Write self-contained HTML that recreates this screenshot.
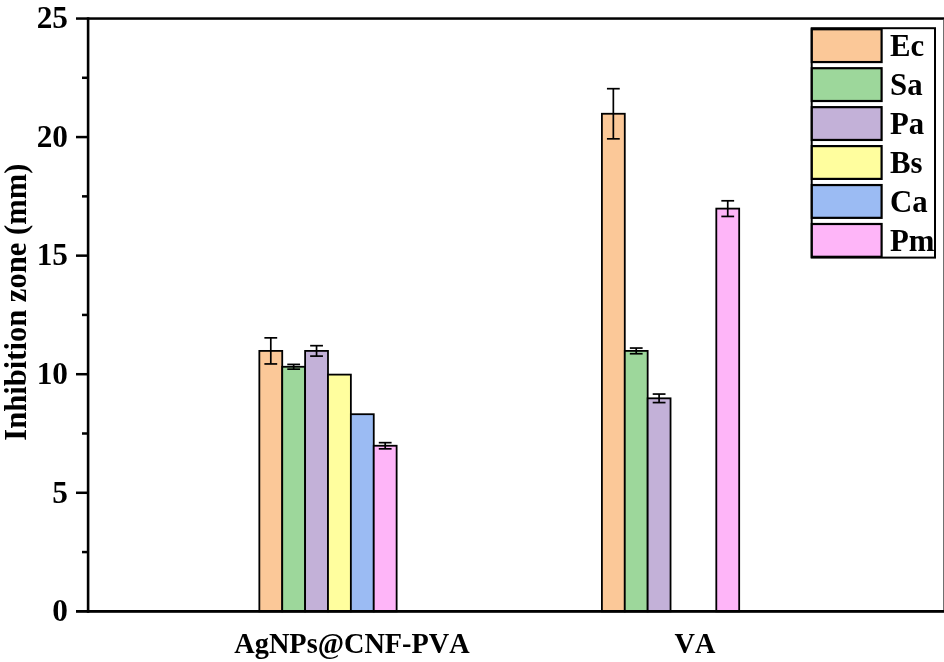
<!DOCTYPE html>
<html><head><meta charset="utf-8"><style>
html,body{margin:0;padding:0;background:#fff;}
svg{display:block;will-change:transform;}
.t{font-kerning:none;font-family:"Liberation Serif",serif;font-weight:bold;font-size:31.3px;fill:#000;}
.ytl{font-size:30.6px;}
.xl{font-size:28.3px;}
.lg{font-size:30.8px;}
</style></head><body>
<svg width="944" height="662" viewBox="0 0 944 662">
<rect x="0" y="0" width="944" height="662" fill="#fff"/>
<rect x="259.35" y="350.90" width="22.88" height="260.45" fill="#FBC898" stroke="#000" stroke-width="1.8"/>
<rect x="282.23" y="366.78" width="22.88" height="244.57" fill="#9DD79B" stroke="#000" stroke-width="1.8"/>
<rect x="305.11" y="350.90" width="22.88" height="260.45" fill="#C3B1D8" stroke="#000" stroke-width="1.8"/>
<rect x="327.99" y="374.61" width="22.88" height="236.74" fill="#FFFE9E" stroke="#000" stroke-width="1.8"/>
<rect x="350.87" y="414.21" width="22.88" height="197.14" fill="#9BBBF3" stroke="#000" stroke-width="1.8"/>
<rect x="373.75" y="445.75" width="22.88" height="165.60" fill="#FEB5F8" stroke="#000" stroke-width="1.8"/>
<line x1="270.79" y1="337.85" x2="270.79" y2="363.94" stroke="#000" stroke-width="1.7"/>
<line x1="264.39" y1="337.85" x2="277.19" y2="337.85" stroke="#000" stroke-width="1.7"/>
<line x1="264.39" y1="363.94" x2="277.19" y2="363.94" stroke="#000" stroke-width="1.7"/>
<line x1="293.67" y1="364.41" x2="293.67" y2="369.16" stroke="#000" stroke-width="1.7"/>
<line x1="287.27" y1="364.41" x2="300.07" y2="364.41" stroke="#000" stroke-width="1.7"/>
<line x1="287.27" y1="369.16" x2="300.07" y2="369.16" stroke="#000" stroke-width="1.7"/>
<line x1="316.55" y1="345.68" x2="316.55" y2="356.11" stroke="#000" stroke-width="1.7"/>
<line x1="310.15" y1="345.68" x2="322.95" y2="345.68" stroke="#000" stroke-width="1.7"/>
<line x1="310.15" y1="356.11" x2="322.95" y2="356.11" stroke="#000" stroke-width="1.7"/>
<line x1="385.19" y1="442.67" x2="385.19" y2="448.83" stroke="#000" stroke-width="1.7"/>
<line x1="378.79" y1="442.67" x2="391.59" y2="442.67" stroke="#000" stroke-width="1.7"/>
<line x1="378.79" y1="448.83" x2="391.59" y2="448.83" stroke="#000" stroke-width="1.7"/>
<rect x="601.90" y="113.76" width="22.88" height="497.59" fill="#FBC898" stroke="#000" stroke-width="1.8"/>
<rect x="624.78" y="350.90" width="22.88" height="260.45" fill="#9DD79B" stroke="#000" stroke-width="1.8"/>
<rect x="647.66" y="398.32" width="22.88" height="213.03" fill="#C3B1D8" stroke="#000" stroke-width="1.8"/>
<rect x="716.30" y="208.61" width="22.88" height="402.74" fill="#FEB5F8" stroke="#000" stroke-width="1.8"/>
<line x1="613.34" y1="88.69" x2="613.34" y2="138.82" stroke="#000" stroke-width="1.7"/>
<line x1="606.94" y1="88.69" x2="619.74" y2="88.69" stroke="#000" stroke-width="1.7"/>
<line x1="606.94" y1="138.82" x2="619.74" y2="138.82" stroke="#000" stroke-width="1.7"/>
<line x1="636.22" y1="348.05" x2="636.22" y2="353.74" stroke="#000" stroke-width="1.7"/>
<line x1="629.82" y1="348.05" x2="642.62" y2="348.05" stroke="#000" stroke-width="1.7"/>
<line x1="629.82" y1="353.74" x2="642.62" y2="353.74" stroke="#000" stroke-width="1.7"/>
<line x1="659.10" y1="394.06" x2="659.10" y2="402.59" stroke="#000" stroke-width="1.7"/>
<line x1="652.70" y1="394.06" x2="665.50" y2="394.06" stroke="#000" stroke-width="1.7"/>
<line x1="652.70" y1="402.59" x2="665.50" y2="402.59" stroke="#000" stroke-width="1.7"/>
<line x1="727.74" y1="200.79" x2="727.74" y2="216.44" stroke="#000" stroke-width="1.7"/>
<line x1="721.34" y1="200.79" x2="734.14" y2="200.79" stroke="#000" stroke-width="1.7"/>
<line x1="721.34" y1="216.44" x2="734.14" y2="216.44" stroke="#000" stroke-width="1.7"/>
<rect x="76" y="17.3" width="868" height="2.5" fill="#000"/>
<rect x="76" y="610.0" width="868" height="2.8" fill="#000"/>
<rect x="86.8" y="17.3" width="2.6" height="595.5" fill="#000"/>
<rect x="943" y="19.8" width="1" height="590.2" fill="#707070"/>
<rect x="76" y="491.53" width="12" height="2.5" fill="#000"/>
<rect x="76" y="372.96" width="12" height="2.5" fill="#000"/>
<rect x="76" y="254.39" width="12" height="2.5" fill="#000"/>
<rect x="76" y="135.82" width="12" height="2.5" fill="#000"/>
<rect x="82" y="550.82" width="6" height="2.5" fill="#000"/>
<rect x="82" y="432.25" width="6" height="2.5" fill="#000"/>
<rect x="82" y="313.68" width="6" height="2.5" fill="#000"/>
<rect x="82" y="195.11" width="6" height="2.5" fill="#000"/>
<rect x="82" y="76.54" width="6" height="2.5" fill="#000"/>
<text transform="translate(68.0,621.15) scale(1,1.035)" text-anchor="end" class="t">0</text>
<text transform="translate(68.0,502.58) scale(1,1.035)" text-anchor="end" class="t">5</text>
<text transform="translate(68.0,384.01) scale(1,1.035)" text-anchor="end" class="t">10</text>
<text transform="translate(68.0,265.44) scale(1,1.035)" text-anchor="end" class="t">15</text>
<text transform="translate(68.0,146.87) scale(1,1.035)" text-anchor="end" class="t">20</text>
<text transform="translate(68.0,28.30) scale(1,1.035)" text-anchor="end" class="t">25</text>
<text transform="translate(26.3,302.2) rotate(-90)" text-anchor="middle" class="t ytl">Inhibition zone (mm)</text>
<text transform="translate(352,652.8) scale(1,1.035)" text-anchor="middle" class="t xl">AgNPs@CNF-PVA</text>
<text transform="translate(694.9,652.8) scale(1,1.035)" text-anchor="middle" class="t xl">VA</text>
<rect x="811.7" y="28.2" width="123.3" height="229.4" fill="#fff" stroke="#000" stroke-width="2"/>
<rect x="811.8" y="29.25" width="69.8" height="32.8" fill="#FBC898" stroke="#000" stroke-width="2.2"/>
<text x="890" y="55.95" class="t lg">Ec</text>
<rect x="811.8" y="68.20" width="69.8" height="32.8" fill="#9DD79B" stroke="#000" stroke-width="2.2"/>
<text x="890" y="94.90" class="t lg">Sa</text>
<rect x="811.8" y="107.15" width="69.8" height="32.8" fill="#C3B1D8" stroke="#000" stroke-width="2.2"/>
<text x="890" y="133.85" class="t lg">Pa</text>
<rect x="811.8" y="146.10" width="69.8" height="32.8" fill="#FFFE9E" stroke="#000" stroke-width="2.2"/>
<text x="890" y="172.80" class="t lg">Bs</text>
<rect x="811.8" y="185.05" width="69.8" height="32.8" fill="#9BBBF3" stroke="#000" stroke-width="2.2"/>
<text x="890" y="211.75" class="t lg">Ca</text>
<rect x="811.8" y="224.00" width="69.8" height="32.8" fill="#FEB5F8" stroke="#000" stroke-width="2.2"/>
<text x="890" y="250.70" class="t lg">Pm</text>
</svg>
</body></html>
